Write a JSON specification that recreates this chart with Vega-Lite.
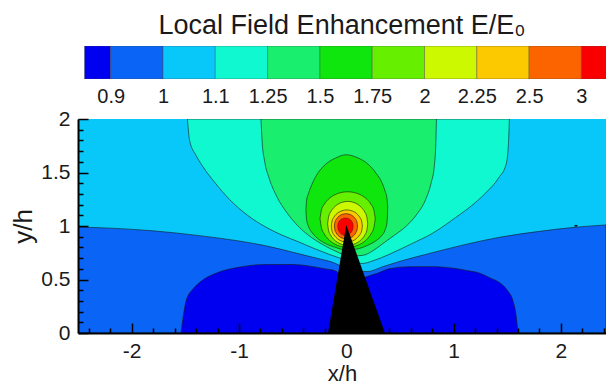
{
  "$schema": "https://vega.github.io/schema/vega-lite/v6.json",
  "background": "white",
  "padding": {"left": 10, "top": 12, "right": 0, "bottom": 0},
  "bounds": "flush",
  "spacing": 40,
  "config": {
    "font": "Liberation Sans",
    "view": {"stroke": null},
    "axis": {"labelFont": "Liberation Sans", "titleFont": "Liberation Sans", "grid": false},
    "title": {"font": "Liberation Sans"}
  },
  "datasets": {
    "legend": [
      {"band": "b00", "lo": 0.5, "hi": 1},
      {"band": "b01", "lo": 1, "hi": 2},
      {"band": "b02", "lo": 2, "hi": 3},
      {"band": "b03", "lo": 3, "hi": 4},
      {"band": "b04", "lo": 4, "hi": 5},
      {"band": "b05", "lo": 5, "hi": 6},
      {"band": "b06", "lo": 6, "hi": 7},
      {"band": "b07", "lo": 7, "hi": 8},
      {"band": "b08", "lo": 8, "hi": 9},
      {"band": "b09", "lo": 9, "hi": 10},
      {"band": "b10", "lo": 10, "hi": 11}
    ],
    "bg": [{"x": -2.5, "top": 2, "bot": 0}, {"x": 2.42, "top": 2, "bot": 0}],
    "lt10": [
      {"x": -2.5, "top": 0.99, "bot": 0}, {"x": -2.2, "top": 0.98, "bot": 0}, {"x": -1.8, "top": 0.955, "bot": 0},
      {"x": -1.37, "top": 0.91, "bot": 0}, {"x": -1.0, "top": 0.86, "bot": 0}, {"x": -0.75, "top": 0.815, "bot": 0},
      {"x": -0.44, "top": 0.74, "bot": 0}, {"x": -0.28, "top": 0.7, "bot": 0}, {"x": -0.1, "top": 0.65, "bot": 0},
      {"x": 0.0, "top": 0.6, "bot": 0}, {"x": 0.12, "top": 0.575, "bot": 0}, {"x": 0.2, "top": 0.575, "bot": 0},
      {"x": 0.34, "top": 0.62, "bot": 0}, {"x": 0.5, "top": 0.67, "bot": 0}, {"x": 0.8, "top": 0.75, "bot": 0},
      {"x": 1.1, "top": 0.825, "bot": 0}, {"x": 1.43, "top": 0.895, "bot": 0}, {"x": 1.8, "top": 0.95, "bot": 0},
      {"x": 2.1, "top": 0.985, "bot": 0}, {"x": 2.42, "top": 1.01, "bot": 0}
    ],
    "lt09": [
      {"x": -1.54, "top": 0, "bot": 0}, {"x": -1.52, "top": 0.15, "bot": 0}, {"x": -1.49, "top": 0.31, "bot": 0},
      {"x": -1.43, "top": 0.41, "bot": 0}, {"x": -1.37, "top": 0.47, "bot": 0}, {"x": -1.21, "top": 0.56, "bot": 0},
      {"x": -1.0, "top": 0.615, "bot": 0}, {"x": -0.75, "top": 0.64, "bot": 0}, {"x": -0.5, "top": 0.64, "bot": 0},
      {"x": -0.34, "top": 0.625, "bot": 0}, {"x": -0.2, "top": 0.6, "bot": 0}, {"x": -0.1, "top": 0.58, "bot": 0},
      {"x": 0.0, "top": 0.5, "bot": 0}, {"x": 0.1, "top": 0.5, "bot": 0}, {"x": 0.2, "top": 0.53, "bot": 0},
      {"x": 0.28, "top": 0.555, "bot": 0}, {"x": 0.4, "top": 0.6, "bot": 0}, {"x": 0.6, "top": 0.62, "bot": 0},
      {"x": 0.8, "top": 0.62, "bot": 0}, {"x": 1.0, "top": 0.605, "bot": 0}, {"x": 1.12, "top": 0.585, "bot": 0},
      {"x": 1.24, "top": 0.56, "bot": 0}, {"x": 1.35, "top": 0.51, "bot": 0}, {"x": 1.43, "top": 0.47, "bot": 0},
      {"x": 1.5, "top": 0.4, "bot": 0}, {"x": 1.55, "top": 0.31, "bot": 0}, {"x": 1.58, "top": 0.18, "bot": 0},
      {"x": 1.6, "top": 0, "bot": 0}
    ],
    "gt11": [
      {"x": -1.48, "top": 2, "bot": 2}, {"x": -1.46, "top": 2, "bot": 1.8}, {"x": -1.4, "top": 2, "bot": 1.66},
      {"x": -1.34, "top": 2, "bot": 1.56}, {"x": -1.22, "top": 2, "bot": 1.4}, {"x": -1.09, "top": 2, "bot": 1.25},
      {"x": -0.92, "top": 2, "bot": 1.1}, {"x": -0.75, "top": 2, "bot": 0.99}, {"x": -0.6, "top": 2, "bot": 0.915},
      {"x": -0.44, "top": 2, "bot": 0.85}, {"x": -0.3, "top": 2, "bot": 0.79}, {"x": -0.16, "top": 2, "bot": 0.735},
      {"x": -0.06, "top": 2, "bot": 0.7}, {"x": 0.05, "top": 2, "bot": 0.66}, {"x": 0.15, "top": 2, "bot": 0.65},
      {"x": 0.25, "top": 2, "bot": 0.675}, {"x": 0.4, "top": 2, "bot": 0.735}, {"x": 0.6, "top": 2, "bot": 0.83},
      {"x": 0.8, "top": 2, "bot": 0.93}, {"x": 1.02, "top": 2, "bot": 1.08}, {"x": 1.18, "top": 2, "bot": 1.2},
      {"x": 1.3, "top": 2, "bot": 1.31}, {"x": 1.42, "top": 2, "bot": 1.45}, {"x": 1.49, "top": 2, "bot": 1.58},
      {"x": 1.51, "top": 2, "bot": 1.75}, {"x": 1.52, "top": 2, "bot": 2}
    ],
    "gt125": [
      {"x": -0.795, "top": 2, "bot": 2}, {"x": -0.785, "top": 2, "bot": 1.8}, {"x": -0.76, "top": 2, "bot": 1.6},
      {"x": -0.72, "top": 2, "bot": 1.45}, {"x": -0.65, "top": 2, "bot": 1.28}, {"x": -0.55, "top": 2, "bot": 1.12},
      {"x": -0.44, "top": 2, "bot": 0.99}, {"x": -0.32, "top": 2, "bot": 0.89}, {"x": -0.2, "top": 2, "bot": 0.815},
      {"x": -0.1, "top": 2, "bot": 0.765}, {"x": -0.03, "top": 2, "bot": 0.735}, {"x": 0.05, "top": 2, "bot": 0.72},
      {"x": 0.15, "top": 2, "bot": 0.725}, {"x": 0.25, "top": 2, "bot": 0.77}, {"x": 0.34, "top": 2, "bot": 0.835},
      {"x": 0.45, "top": 2, "bot": 0.915}, {"x": 0.56, "top": 2, "bot": 1.0}, {"x": 0.65, "top": 2, "bot": 1.1},
      {"x": 0.74, "top": 2, "bot": 1.25}, {"x": 0.79, "top": 2, "bot": 1.4}, {"x": 0.82, "top": 2, "bot": 1.56},
      {"x": 0.835, "top": 2, "bot": 1.8}, {"x": 0.84, "top": 2, "bot": 2}
    ],
    "gt15": [
      {"x": -0.376, "top": 1.15, "bot": 1.15}, {"x": -0.37, "top": 1.24, "bot": 1.06}, {"x": -0.35, "top": 1.31, "bot": 0.99},
      {"x": -0.32, "top": 1.39, "bot": 0.94}, {"x": -0.28, "top": 1.47, "bot": 0.895}, {"x": -0.2, "top": 1.57, "bot": 0.84},
      {"x": -0.1, "top": 1.635, "bot": 0.8}, {"x": 0.0, "top": 1.666, "bot": 0.775}, {"x": 0.1, "top": 1.64, "bot": 0.785},
      {"x": 0.2, "top": 1.58, "bot": 0.82}, {"x": 0.28, "top": 1.49, "bot": 0.865}, {"x": 0.33, "top": 1.41, "bot": 0.91},
      {"x": 0.36, "top": 1.33, "bot": 0.96}, {"x": 0.38, "top": 1.25, "bot": 1.04}, {"x": 0.386, "top": 1.18, "bot": 1.18}
    ],
    "gt175": [
      {"x": -0.245, "top": 1.07, "bot": 1.07}, {"x": -0.232, "top": 1.148, "bot": 0.986}, {"x": -0.206, "top": 1.202, "bot": 0.928},
      {"x": -0.168, "top": 1.249, "bot": 0.877}, {"x": -0.116, "top": 1.287, "bot": 0.836}, {"x": -0.052, "top": 1.312, "bot": 0.809},
      {"x": 0.0125, "top": 1.32, "bot": 0.8}, {"x": 0.077, "top": 1.312, "bot": 0.809}, {"x": 0.141, "top": 1.287, "bot": 0.836},
      {"x": 0.193, "top": 1.249, "bot": 0.877}, {"x": 0.231, "top": 1.202, "bot": 0.928}, {"x": 0.257, "top": 1.148, "bot": 0.986},
      {"x": 0.27, "top": 1.07, "bot": 1.07}
    ],
    "gt20": [
      {"x": -0.174, "top": 1.02, "bot": 1.02}, {"x": -0.165, "top": 1.086, "bot": 0.958}, {"x": -0.146, "top": 1.131, "bot": 0.915},
      {"x": -0.118, "top": 1.17, "bot": 0.877}, {"x": -0.081, "top": 1.202, "bot": 0.847}, {"x": -0.034, "top": 1.223, "bot": 0.826},
      {"x": 0.013, "top": 1.23, "bot": 0.82}, {"x": 0.06, "top": 1.223, "bot": 0.826}, {"x": 0.107, "top": 1.202, "bot": 0.847},
      {"x": 0.144, "top": 1.17, "bot": 0.877}, {"x": 0.172, "top": 1.131, "bot": 0.915}, {"x": 0.191, "top": 1.086, "bot": 0.958},
      {"x": 0.2, "top": 1.02, "bot": 1.02}
    ],
    "gt225": [
      {"x": -0.14, "top": 1.0, "bot": 1.0}, {"x": -0.133, "top": 1.047, "bot": 0.953}, {"x": -0.118, "top": 1.079, "bot": 0.921},
      {"x": -0.097, "top": 1.107, "bot": 0.895}, {"x": -0.068, "top": 1.13, "bot": 0.87}, {"x": -0.031, "top": 1.145, "bot": 0.855},
      {"x": 0.005, "top": 1.15, "bot": 0.85}, {"x": 0.041, "top": 1.145, "bot": 0.855}, {"x": 0.078, "top": 1.13, "bot": 0.87},
      {"x": 0.107, "top": 1.107, "bot": 0.895}, {"x": 0.128, "top": 1.079, "bot": 0.921}, {"x": 0.143, "top": 1.047, "bot": 0.953},
      {"x": 0.15, "top": 1.0, "bot": 1.0}
    ],
    "gt25": [
      {"x": -0.111, "top": 1.0, "bot": 1.0}, {"x": -0.106, "top": 1.036, "bot": 0.963}, {"x": -0.095, "top": 1.061, "bot": 0.937},
      {"x": -0.079, "top": 1.082, "bot": 0.914}, {"x": -0.057, "top": 1.1, "bot": 0.896}, {"x": -0.03, "top": 1.111, "bot": 0.884},
      {"x": -0.003, "top": 1.115, "bot": 0.88}, {"x": 0.024, "top": 1.111, "bot": 0.884}, {"x": 0.051, "top": 1.1, "bot": 0.896},
      {"x": 0.073, "top": 1.082, "bot": 0.914}, {"x": 0.089, "top": 1.061, "bot": 0.937}, {"x": 0.1, "top": 1.036, "bot": 0.963},
      {"x": 0.105, "top": 1.0, "bot": 1.0}
    ],
    "gt30": [
      {"x": -0.081, "top": 1.0, "bot": 1.0}, {"x": -0.077, "top": 1.023, "bot": 0.972}, {"x": -0.07, "top": 1.04, "bot": 0.953},
      {"x": -0.059, "top": 1.054, "bot": 0.936}, {"x": -0.045, "top": 1.065, "bot": 0.922}, {"x": -0.026, "top": 1.073, "bot": 0.913},
      {"x": -0.008, "top": 1.075, "bot": 0.91}, {"x": 0.01, "top": 1.073, "bot": 0.913}, {"x": 0.029, "top": 1.065, "bot": 0.922},
      {"x": 0.043, "top": 1.054, "bot": 0.936}, {"x": 0.054, "top": 1.04, "bot": 0.953}, {"x": 0.061, "top": 1.023, "bot": 0.972},
      {"x": 0.065, "top": 1.0, "bot": 1.0}
    ],
    "tip": [{"x": -0.17, "top": 0, "bot": 0}, {"x": 0.0, "top": 1.01, "bot": 0}, {"x": 0.36, "top": 0, "bot": 0}],
    "dot": [{"x": 2.12, "top": 1.0, "bot": 1.0}, {"x": 2.14, "top": 1.012, "bot": 0.994}, {"x": 2.16, "top": 1.0, "bot": 1.0}],
    "border": [{"x": -2.5, "top": 2}, {"x": 2.42, "top": 2}]
  },
  "vconcat": [
    {
      "width": 528,
      "height": 33,
      "title": {"text": "Local Field Enhancement E/E₀", "fontSize": 27, "fontWeight": "normal", "color": "#1a1a1a", "anchor": "middle", "offset": 6},
      "data": {"name": "legend"},
      "mark": {"type": "rect", "stroke": "#444", "strokeWidth": 0.6, "strokeOpacity": 0.7, "clip": true},
      "encoding": {
        "x": {"field": "lo", "type": "quantitative",
          "scale": {"domain": [0.375, 10.47], "nice": false, "zero": false},
          "axis": {"values": [1, 2, 3, 4, 5, 6, 7, 8, 9, 10],
            "labelExpr": "['0.9','1','1.1','1.25','1.5','1.75','2','2.25','2.5','3'][datum.value-1]",
            "ticks": false, "domain": false, "labelFontSize": 20, "labelPadding": 7, "labelColor": "#1a1a1a",
            "labelFlush": false, "labelOverlap": false, "title": null}},
        "x2": {"field": "hi"},
        "color": {"field": "band", "type": "nominal", "legend": null,
          "scale": {"domain": ["b00","b01","b02","b03","b04","b05","b06","b07","b08","b09","b10"],
            "range": ["#0000f0","#0a64f5","#08c8fa","#10f8d0","#1aee6e","#0ee60e","#66f000","#ccf800","#fcc800","#fc6400","#f80000"]}}
      }
    },
    {
      "width": 528,
      "height": 214,
      "encoding": {
        "x": {"field": "x", "type": "quantitative",
          "scale": {"domain": [-2.5, 2.42], "nice": false, "zero": false},
          "axis": {
            "zindex": 2,
            "values": [-2.4,-2.2,-2,-1.8,-1.6,-1.4,-1.2,-1,-0.8,-0.6,-0.4,-0.2,0,0.2,0.4,0.6,0.8,1,1.2,1.4,1.6,1.8,2,2.2,2.4],
            "labelExpr": "abs(datum.value-round(datum.value))<0.01 ? ''+datum.value : ''",
            "tickSize": {"condition": {"test": "abs(datum.value-round(datum.value))<0.01", "value": -10}, "value": -5},
            "tickColor": "#000", "tickWidth": 1.5, "domainColor": "#000", "domainWidth": 2,
            "labelPadding": 17, "labelFontSize": 21, "labelColor": "#1a1a1a", "labelFlush": false, "labelOverlap": false,
            "title": "x/h", "titleFontSize": 22, "titleFontWeight": "normal", "titleColor": "#1a1a1a", "titlePadding": -3}},
        "y": {"field": "top", "type": "quantitative",
          "scale": {"domain": [0, 2], "nice": false, "zero": false},
          "axis": {
            "zindex": 2,
            "values": [0,0.1,0.2,0.3,0.4,0.5,0.6,0.7,0.8,0.9,1,1.1,1.2,1.3,1.4,1.5,1.6,1.7,1.8,1.9,2],
            "labelExpr": "abs(datum.value*2-round(datum.value*2))<0.01 ? ''+datum.value : ''",
            "tickSize": {"condition": {"test": "abs(datum.value*2-round(datum.value*2))<0.01", "value": -10}, "value": -5},
            "tickColor": "#000", "tickWidth": 1.5, "domainColor": "#000", "domainWidth": 2,
            "labelPadding": 18, "labelFontSize": 21, "labelColor": "#1a1a1a", "labelOverlap": false, "labelFlush": false,
            "title": "y/h", "titleFontSize": 26, "titleFontWeight": "normal", "titleColor": "#1a1a1a", "titlePadding": 4}},
        "y2": {"field": "bot"}
      },
      "layer": [
        {"data": {"name": "bg"}, "mark": {"type": "area", "fill": "#08c8fa", "clip": true}},
        {"data": {"name": "lt10"}, "mark": {"type": "area", "fill": "#0a64f5", "interpolate": "monotone", "stroke": "#1a1a1a", "strokeWidth": 0.8, "strokeOpacity": 0.75, "clip": true}},
        {"data": {"name": "lt09"}, "mark": {"type": "area", "fill": "#0000f0", "interpolate": "monotone", "stroke": "#1a1a1a", "strokeWidth": 0.8, "strokeOpacity": 0.75, "clip": true}},
        {"data": {"name": "gt11"}, "mark": {"type": "area", "fill": "#10f8d0", "interpolate": "monotone", "stroke": "#1a1a1a", "strokeWidth": 0.8, "strokeOpacity": 0.75, "clip": true}},
        {"data": {"name": "gt125"}, "mark": {"type": "area", "fill": "#1aee6e", "interpolate": "monotone", "stroke": "#1a1a1a", "strokeWidth": 0.8, "strokeOpacity": 0.75, "clip": true}},
        {"data": {"name": "gt15"}, "mark": {"type": "area", "fill": "#0ee60e", "interpolate": "monotone", "stroke": "#1a1a1a", "strokeWidth": 0.8, "strokeOpacity": 0.75, "clip": true}},
        {"data": {"name": "gt175"}, "mark": {"type": "area", "fill": "#66f000", "interpolate": "monotone", "stroke": "#1a1a1a", "strokeWidth": 0.8, "strokeOpacity": 0.75, "clip": true}},
        {"data": {"name": "gt20"}, "mark": {"type": "area", "fill": "#ccf800", "interpolate": "monotone", "stroke": "#1a1a1a", "strokeWidth": 0.8, "strokeOpacity": 0.75, "clip": true}},
        {"data": {"name": "gt225"}, "mark": {"type": "area", "fill": "#fcc800", "interpolate": "monotone", "stroke": "#1a1a1a", "strokeWidth": 0.8, "strokeOpacity": 0.75, "clip": true}},
        {"data": {"name": "gt25"}, "mark": {"type": "area", "fill": "#fc6400", "interpolate": "monotone", "stroke": "#1a1a1a", "strokeWidth": 0.8, "strokeOpacity": 0.75, "clip": true}},
        {"data": {"name": "gt30"}, "mark": {"type": "area", "fill": "#f80000", "interpolate": "monotone", "stroke": "#1a1a1a", "strokeWidth": 0.6, "strokeOpacity": 0.6, "clip": true}},
        {"data": {"name": "tip"}, "mark": {"type": "area", "fill": "#000000", "interpolate": "linear", "clip": true}},
        {"data": {"name": "dot"}, "mark": {"type": "area", "fill": "#000000", "interpolate": "linear", "clip": true}},
        {"data": {"name": "border"}, "mark": {"type": "line", "color": "#000000", "strokeWidth": 2}}
      ]
    }
  ]
}
